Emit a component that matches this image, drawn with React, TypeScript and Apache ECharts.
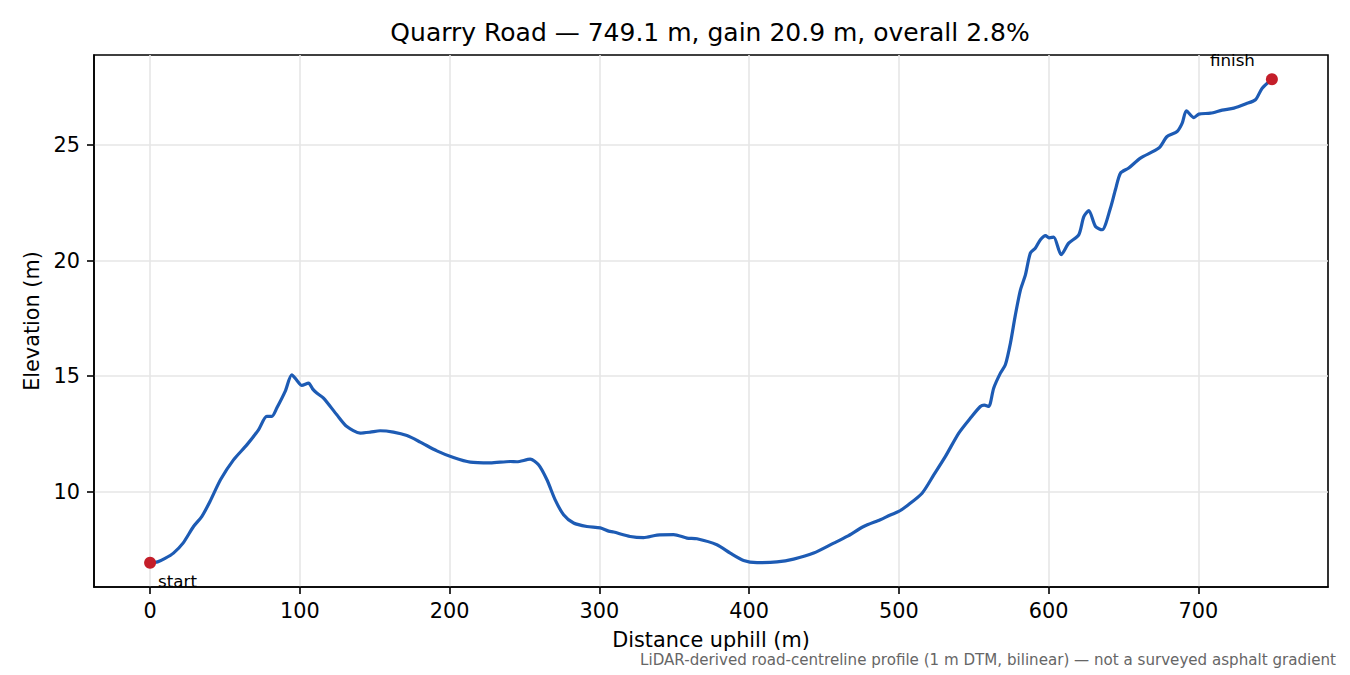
import { useEffect, useRef } from 'react'
import * as echarts from 'echarts'

// profile, distance along road (m) vs elevation (m)
const DISTANCE = [
  0, 5, 10, 15.6, 22, 29, 34.5, 40, 47, 55.7, 64.6, 72.4, 77.9, 81.3, 84.6, 90.2, 94.6, 98, 101.3,
  105.8, 108.5, 111.3, 115.8, 124.7, 131.4, 140.3, 147, 153.6, 162.5, 171.5, 180.4, 191.5, 202.6,
  213.8, 227.1, 240.5, 244.9, 253.8, 259.4, 265, 270.5, 276.1, 282.8, 291.7, 300.6, 306.2, 309.5,
  320.6, 329.5, 338.5, 349.6, 358.5, 365.2, 378.5, 387.4, 396.3, 405.3, 418.6, 429.7, 443.1, 456.5,
  465.4, 476.5, 487.6, 494.3, 499.9, 505.5, 515.5, 523.3, 531.1, 540, 547.8, 554.4, 557, 560, 563.3,
  567.8, 571.1, 574.5, 577.8, 581.2, 584.5, 587.8, 591.2, 594.5, 597.9, 600.5, 603.4, 608.4, 613.4,
  620.1, 623.5, 626.8, 631.3, 635.7, 641.3, 644.6, 648, 653.5, 661.3, 673.6, 679.1, 685.8, 689.2,
  692, 697, 700.3, 708.1, 715.9, 723.7, 731.5, 738.1, 742.6, 749.1,
]

const ELEVATION = [
  6.93, 6.97, 7.12, 7.35, 7.78, 8.5, 8.93, 9.58, 10.52, 11.38, 12.03, 12.68, 13.26, 13.26, 13.62,
  14.34, 15.06, 14.82, 14.6, 14.7, 14.45, 14.27, 14.05, 13.33, 12.82, 12.54, 12.58, 12.64, 12.58,
  12.43, 12.15, 11.77, 11.48, 11.28, 11.25, 11.31, 11.3, 11.41, 11.17, 10.52, 9.65, 9.01, 8.65, 8.5,
  8.44, 8.3, 8.26, 8.07, 8.02, 8.13, 8.15, 8.0, 7.97, 7.71, 7.35, 7.03, 6.94, 6.97, 7.09, 7.35, 7.78,
  8.07, 8.5, 8.79, 9.0, 9.15, 9.4, 9.94, 10.73, 11.53, 12.54, 13.19, 13.69, 13.75, 13.69, 14.48,
  15.13, 15.49, 16.43, 17.65, 18.73, 19.38, 20.32, 20.54, 20.9, 21.08, 20.98, 21.01, 20.25, 20.75,
  21.11, 21.9, 22.16, 21.47, 21.33, 22.27, 23.06, 23.78, 24.0, 24.43, 24.86, 25.36, 25.58, 25.94,
  26.47, 26.18, 26.33, 26.37, 26.5, 26.59, 26.77, 26.95, 27.45, 27.84,
]

const X_TICKS = [0, 100, 200, 300, 400, 500, 600, 700]
const Y_TICKS = [10, 15, 20, 25]
const END_LABELS = ['start', 'finish']

const FONT = 'DejaVu Sans, sans-serif'

export default function App() {
  const chartRef = useRef<HTMLDivElement>(null)

  useEffect(() => {
    document.body.style.margin = '0'
    if (!chartRef.current) return

    const chart = echarts.init(chartRef.current, null, { renderer: 'svg' })

    const n = DISTANCE.length
    const x0 = DISTANCE[0]
    const x1 = DISTANCE[n - 1]
    const eMin = Math.min(...ELEVATION)
    const eMax = Math.max(...ELEVATION)
    const xPad = (x1 - x0) * 0.05
    const yPad = (eMax - eMin) * 0.05
    const gain = ELEVATION[n - 1] - ELEVATION[0]

    const profile = DISTANCE.map((d, i) => [d, ELEVATION[i]])

    const axisCommon = {
      axisLine: { show: true, onZero: false, lineStyle: { color: '#000', width: 1.6 } },
      axisTick: { show: true, inside: false, length: 7, lineStyle: { color: '#000', width: 1.6 } },
      splitLine: { show: true, lineStyle: { color: '#e6e6e6', width: 1.6 } },
      nameTextStyle: { fontFamily: FONT, fontSize: 20.8, color: '#000' },
    }

    const endLabel = (text: string, offset: number[]) => ({
      show: true,
      formatter: text,
      position: 'inside' as const,
      offset,
      align: 'left' as const,
      verticalAlign: 'middle' as const,
      fontFamily: FONT,
      fontSize: 16.7,
      color: '#000',
    })

    const option: echarts.EChartsOption = {
      animation: false,
      backgroundColor: '#fff',
      title: {
        text: `Quarry Road — ${x1.toFixed(1)} m, gain ${gain.toFixed(1)} m, overall ${((gain / x1) * 100).toFixed(1)}%`,
        left: 705,
        top: 15,
        textAlign: 'center',
        textStyle: { fontFamily: FONT, fontSize: 25, fontWeight: 'normal', color: '#000' },
      },
      grid: {
        left: 94,
        right: 22,
        top: 55,
        bottom: 88,
        show: true,
        borderColor: '#000',
        borderWidth: 1.6,
        backgroundColor: 'transparent',
      },
      xAxis: {
        type: 'value',
        min: x0 - xPad,
        max: x1 + xPad,
        name: 'Distance uphill (m)',
        nameLocation: 'middle',
        nameGap: 42,
        ...axisCommon,
        axisTick: { ...axisCommon.axisTick, customValues: X_TICKS },
        axisLabel: {
          customValues: X_TICKS,
          margin: 13,
          fontFamily: FONT,
          fontSize: 20.8,
          color: '#000',
        },
      },
      yAxis: {
        type: 'value',
        min: eMin - yPad,
        max: eMax + yPad,
        name: 'Elevation (m)',
        nameLocation: 'middle',
        nameGap: 50,
        ...axisCommon,
        axisTick: { ...axisCommon.axisTick, customValues: Y_TICKS },
        axisLabel: {
          customValues: Y_TICKS,
          margin: 14,
          fontFamily: FONT,
          fontSize: 20.8,
          color: '#000',
        },
      },
      graphic: [
        {
          type: 'text',
          right: 14,
          top: 652,
          style: {
            text: 'LiDAR-derived road-centreline profile (1 m DTM, bilinear) — not a surveyed asphalt gradient',
            fontFamily: FONT,
            fontSize: 15.1,
            fill: '#666',
          },
        },
      ],
      series: [
        {
          name: 'profile',
          type: 'line',
          data: profile,
          showSymbol: false,
          smooth: 0.25,
          lineStyle: { color: '#1d5bb4', width: 3.2 },
          z: 3,
        },
        {
          name: 'ends',
          type: 'scatter',
          symbolSize: 12,
          itemStyle: { color: '#c41e2a', opacity: 1 },
          z: 4,
          data: [
            { value: [x0, ELEVATION[0]], label: endLabel(END_LABELS[0], [8, 18]) },
            { value: [x1, ELEVATION[n - 1]], label: endLabel(END_LABELS[1], [-62, -19]) },
          ],
        },
      ],
    }

    chart.setOption(option)

    return () => {
      chart.dispose()
    }
  }, [])

  return <div ref={chartRef} style={{ width: 1350, height: 675 }} />
}
